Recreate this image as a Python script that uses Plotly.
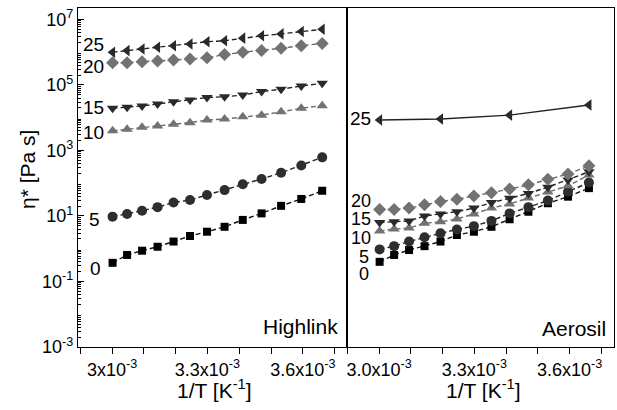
import plotly.graph_objects as go

# 1/T values [K^-1] for 60, 55, ..., 0 degC
inv_T = [3.0017e-3, 3.0474e-3, 3.0945e-3, 3.1432e-3, 3.1934e-3, 3.2452e-3, 3.2987e-3,
         3.3540e-3, 3.4112e-3, 3.4704e-3, 3.5317e-3, 3.5952e-3, 3.6610e-3]
inv_T_ae25 = [3.0017e-3, 3.1934e-3, 3.4112e-3, 3.6610e-3]

# Highlink: eta* [Pa s]
hl_25 = [1.00e6, 1.12e6, 1.26e6, 1.41e6, 1.58e6, 1.78e6, 2.09e6, 2.24e6, 2.69e6, 3.16e6, 3.63e6, 4.27e6, 5.01e6]
hl_20 = [4.79e5, 4.79e5, 5.13e5, 5.37e5, 5.75e5, 6.17e5, 6.76e5, 8.51e5, 1.00e6, 1.12e6, 1.32e6, 1.58e6, 1.86e6]
hl_15 = [1.95e4, 2.09e4, 2.29e4, 2.63e4, 3.09e4, 3.47e4, 4.17e4, 4.37e4, 4.90e4, 6.31e4, 7.41e4, 9.33e4, 1.12e5]
hl_10 = [3.98e3, 4.47e3, 5.13e3, 5.62e3, 6.31e3, 7.08e3, 8.51e3, 9.12e3, 1.07e4, 1.20e4, 1.51e4, 1.95e4, 2.34e4]
hl_5 = [9.55, 11.5, 14.5, 18.6, 25.7, 30.9, 43.7, 61.7, 93.3, 135, 209, 347, 617]
hl_0 = [0.372, 0.646, 0.871, 1.15, 1.66, 2.45, 3.31, 4.68, 7.59, 12.0, 20.4, 33.1, 58.9]

# Aerosil: eta* [Pa s]
ae_25 = [8.51e3, 9.12e3, 1.20e4, 2.45e4]
ae_20 = [15.8, 15.8, 17.4, 21.9, 27.5, 32.4, 40.7, 51.3, 66.1, 89.1, 132, 191, 339]
ae_15 = [6.31, 6.61, 7.08, 10.0, 11.5, 13.5, 17.4, 25.7, 34.7, 49.0, 75.9, 126, 224]
ae_10 = [3.47, 3.98, 4.27, 6.03, 6.61, 8.13, 11.5, 17.4, 23.4, 35.5, 53.7, 83.2, 178]
ae_5 = [0.955, 1.20, 1.66, 2.24, 2.95, 3.89, 4.90, 7.08, 12.0, 18.6, 29.5, 55.0, 105]
ae_0 = [0.398, 0.646, 0.912, 1.20, 1.66, 2.63, 3.31, 4.68, 7.94, 13.5, 24.5, 38.9, 70.8]

series_labels = ["0", "5", "10", "15", "20", "25"]
y_tick_vals = [1e-3, 1e-1, 1e1, 1e3, 1e5, 1e7]
y_tick_text = ["10<sup>-3</sup>", "10<sup>-1</sup>", "10<sup>1</sup>", "10<sup>3</sup>", "10<sup>5</sup>", "10<sup>7</sup>"]
x_tick_vals = [2.9e-3, 3.0e-3, 3.1e-3, 3.2e-3, 3.3e-3, 3.4e-3, 3.5e-3, 3.6e-3, 3.7e-3]
x_tick_text_left = ["", "3x10<sup>-3</sup>", "", "", "3.3x10<sup>-3</sup>", "", "", "3.6x10<sup>-3</sup>", ""]
x_tick_text_right = ["", "3.0x10<sup>-3</sup>", "", "", "3.3x10<sup>-3</sup>", "", "", "3.6x10<sup>-3</sup>", ""]

FONT = "Liberation Sans, Arial, sans-serif"
DARK = "#2a2a2a"
GREY = "#727272"

styles = {
    "0": dict(symbol="square", color="#000000", line="#111111", size=8),
    "5": dict(symbol="circle", color="#2e2e2e", line="#222222", size=10),
    "10": dict(symbol="triangle-up", color=GREY, line="#6a6a6a", size=10),
    "15": dict(symbol="triangle-down", color=DARK, line="#222222", size=10),
    "20": dict(symbol="diamond", color=GREY, line="#6a6a6a", size=10),
    "25": dict(symbol="triangle-left", color=DARK, line="#222222", size=10),
}

fig = go.Figure()

hl_data = {"0": hl_0, "5": hl_5, "10": hl_10, "15": hl_15, "20": hl_20, "25": hl_25}
ae_data = {"0": ae_0, "5": ae_5, "10": ae_10, "15": ae_15, "20": ae_20, "25": ae_25}

for lab in series_labels:
    st = styles[lab]
    fig.add_trace(go.Scatter(
        x=inv_T, y=hl_data[lab], mode="lines+markers", xaxis="x", yaxis="y",
        line=dict(color=st["line"], width=1.4, dash="5px,3px"),
        marker=dict(symbol=st["symbol"], color=st["color"], size=st["size"], line=dict(width=0)),
        showlegend=False))

for lab in series_labels:
    st = styles[lab]
    xs = inv_T_ae25 if lab == "25" else inv_T
    fig.add_trace(go.Scatter(
        x=xs, y=ae_data[lab], mode="lines+markers", xaxis="x2", yaxis="y2",
        line=dict(color=st["line"], width=1.4, dash="solid" if lab == "25" else "5px,3px"),
        marker=dict(symbol=st["symbol"], color=st["color"], size=st["size"], line=dict(width=0)),
        showlegend=False))

L, R, T, B = 78, 3, 8, 63
W, H = 617, 410
pw = W - L - R
ph = H - T - B
split = (347 - L) / pw

def px(x):
    return (x - L) / pw

def py(y):
    return (H - B - y) / ph

minor_y = [k * 10.0 ** d for d in range(-3, 7) for k in range(2, 10)]

axis_common = dict(showline=True, linecolor="black", linewidth=1.2, mirror=True,
                   showgrid=False, zeroline=False, tickcolor="black", automargin=False)
xfont = dict(family=FONT, size=18, color="black")

fig.update_layout(
    width=W, height=H,
    margin=dict(l=L, r=R, t=T, b=B),
    paper_bgcolor="white", plot_bgcolor="white",
    xaxis=dict(domain=[0, split], range=[2.893e-3, 3.739e-3], tickmode="array",
               tickvals=x_tick_vals, ticktext=x_tick_text_left, ticks="outside", ticklen=6,
               tickfont=xfont, **axis_common),
    xaxis2=dict(domain=[split, 1], range=[2.899e-3, 3.740e-3], tickmode="array",
                tickvals=x_tick_vals, ticktext=x_tick_text_right, ticks="outside", ticklen=6,
                tickfont=xfont, anchor="y2", **axis_common),
    yaxis=dict(type="log", range=[-3, 7.35], tickmode="array", tickvals=y_tick_vals,
               ticktext=y_tick_text, ticks="inside", ticklen=6,
               tickfont=dict(family=FONT, size=18, color="black"),
               minor=dict(tickmode="array", tickvals=minor_y, ticks="inside", ticklen=3,
                          tickcolor="black"),
               **axis_common),
    yaxis2=dict(type="log", range=[-3, 7.35], anchor="x2", matches="y",
                showticklabels=False, ticks="", **axis_common),
)

ann = []
def label(text, x, y, size=19, xanchor="right"):
    ann.append(dict(text=text, x=px(x), y=py(y), xref="paper", yref="paper", showarrow=False,
                    xanchor=xanchor, yanchor="middle", font=dict(family=FONT, size=size, color="black")))

# Highlink labels
label("25", 106, 45)
label("20", 106, 66)
label("15", 106, 107)
label("10", 106, 132)
label("5", 102, 219)
label("0", 103, 268)
# Aerosil labels
label("25", 373, 119)
label("20", 373, 201, size=18)
label("15", 373, 219, size=18)
label("10", 373, 238, size=18)
label("5", 371, 257, size=18)
label("0", 371, 274, size=18)

label("Highlink", 340, 326, size=21)
label("Aerosil", 608, 328, size=21)

label("1/T [K<sup>-1</sup>]", 214, 389, size=21, xanchor="center")
label("1/T [K<sup>-1</sup>]", 483, 389, size=21, xanchor="center")

ann.append(dict(text="η* [Pa s]", x=px(27), y=py(170), xref="paper", yref="paper", showarrow=False,
                textangle=-90, xanchor="center", yanchor="middle",
                font=dict(family=FONT, size=21, color="black")))

fig.update_layout(annotations=ann)

fig.write_html("out.html", config={"displayModeBar": False},
               post_script="document.body.style.margin='0px';")
